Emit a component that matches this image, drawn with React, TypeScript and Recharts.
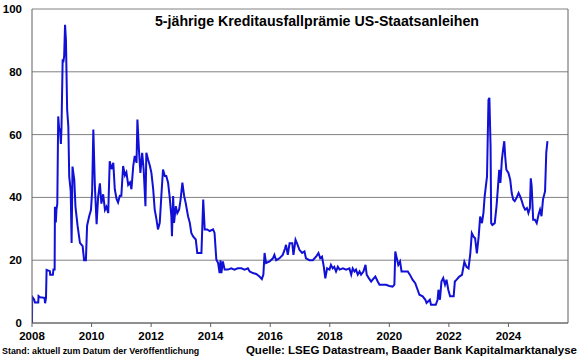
import React from "react";
import { LineChart, Line, XAxis, YAxis, CartesianGrid, ReferenceLine } from "recharts";

const title = "5-jährige Kreditausfallprämie US-Staatsanleihen";
const noteLeft = "Stand: aktuell zum Datum der Veröffentlichung";
const noteRight = "Quelle: LSEG Datastream, Baader Bank Kapitalmarktanalyse";

const xTicks = [2008, 2010, 2012, 2014, 2016, 2018, 2020, 2022, 2024];
const yTicks = [0, 20, 40, 60, 80, 100];

const dates2008 = [2008.0, 2008.005, 2008.07, 2008.1, 2008.21, 2008.22, 2008.27, 2008.42, 2008.44, 2008.47, 2008.49, 2008.6, 2008.61, 2008.7, 2008.72, 2008.76, 2008.77, 2008.8, 2008.82, 2008.85, 2008.88, 2008.91, 2008.94, 2008.97, 2008.99, 2009.03, 2009.05, 2009.08, 2009.11, 2009.14, 2009.18, 2009.22, 2009.25, 2009.3, 2009.33, 2009.36, 2009.42, 2009.46, 2009.53, 2009.61, 2009.7, 2009.75, 2009.81, 2009.85, 2009.92, 2009.98, 2010.02, 2010.06, 2010.11, 2010.17, 2010.22, 2010.28, 2010.33, 2010.39, 2010.45, 2010.5, 2010.56, 2010.61, 2010.67, 2010.73, 2010.78, 2010.84, 2010.89, 2010.95, 2011.0, 2011.06, 2011.12, 2011.17, 2011.23];
const values2008 = [0, 8.4, 7.5, 6.5, 6.5, 8.6, 8.2, 8.0, 6.3, 8, 16.9, 16.5, 15.4, 15.4, 17, 17, 37, 32, 36, 38, 65.8, 62, 61.6, 57, 62, 84, 83, 85, 95, 90, 68, 62.6, 46.7, 42, 25.5, 49.8, 45.6, 37, 31, 25.5, 24.5, 20, 20, 31, 34, 36, 42, 61.6, 44, 31.5, 40, 44.5, 38, 41, 36, 37, 35, 51.5, 49, 51, 42.6, 39.5, 38.4, 40.5, 40.5, 50, 47, 48, 44];

const dates2011 = [2011.29, 2011.34, 2011.4, 2011.45, 2011.51, 2011.54, 2011.59, 2011.64, 2011.7, 2011.75, 2011.81, 2011.84, 2011.9, 2011.96, 2012.01, 2012.07, 2012.12, 2012.18, 2012.23, 2012.29, 2012.35, 2012.4, 2012.46, 2012.51, 2012.57, 2012.62, 2012.68, 2012.7, 2012.74, 2012.77, 2012.83, 2012.88, 2012.94, 2012.99, 2013.05, 2013.11, 2013.16, 2013.24, 2013.3, 2013.35, 2013.41, 2013.5, 2013.55, 2013.69, 2013.72, 2013.75, 2013.8, 2013.88, 2013.97, 2014.08, 2014.13, 2014.19, 2014.25];
const values2011 = [44.8, 42.6, 50, 53.2, 51, 64.8, 55.3, 47.8, 54.2, 48.9, 37.2, 54.2, 52, 50, 47.8, 42.6, 36.2, 33, 29.8, 31.9, 41.5, 48.9, 46.8, 46.8, 44.7, 40.4, 34, 27.6, 40.4, 31.9, 37.2, 35, 36.1, 39.3, 44.7, 40.4, 38.3, 34, 31.9, 28.7, 27.6, 26.6, 22.3, 22.3, 30.9, 39.3, 29.8, 29.8, 29.3, 29.8, 28.7, 20.2, 19.1];

const dates2014 = [2014.3, 2014.33, 2014.36, 2014.41, 2014.47, 2014.58, 2014.69, 2014.8, 2014.91, 2015.03, 2015.14, 2015.25, 2015.31, 2015.42, 2015.53, 2015.64, 2015.72, 2015.77, 2015.81, 2015.86, 2015.98, 2016.09, 2016.14, 2016.2, 2016.31, 2016.42, 2016.5, 2016.53, 2016.59, 2016.65, 2016.74, 2016.78, 2016.85, 2016.9, 2016.98, 2017.07, 2017.15, 2017.2, 2017.32, 2017.43, 2017.54, 2017.62, 2017.68, 2017.74, 2017.8, 2017.85, 2017.91, 2017.99, 2018.04, 2018.1, 2018.15, 2018.21, 2018.27];
const values2014 = [15.9, 20, 15.9, 19.6, 17, 17, 17.4, 17, 17.4, 17.4, 17, 17.4, 16.4, 15.9, 15.6, 14.8, 14, 15.4, 22.3, 19.1, 19.6, 20.6, 21.7, 20, 20.6, 21.7, 23.8, 24.9, 21.7, 25.4, 25.4, 21.7, 26.5, 25.4, 23.3, 22.3, 22.8, 20.6, 20, 20, 21.1, 22.3, 20.6, 21.1, 17.9, 14.2, 17.4, 17, 18.5, 17.4, 17.9, 16.4, 17.9];

const dates2018 = [2018.33, 2018.44, 2018.55, 2018.66, 2018.72, 2018.77, 2018.83, 2018.88, 2018.94, 2019.0, 2019.05, 2019.13, 2019.2, 2019.24, 2019.31, 2019.39, 2019.44, 2019.53, 2019.61, 2019.67, 2019.78, 2019.89, 2020.0, 2020.11, 2020.17, 2020.2, 2020.25, 2020.3, 2020.36, 2020.41, 2020.5, 2020.62, 2020.69, 2020.78, 2020.87, 2020.95, 2021.01, 2021.12, 2021.21, 2021.25, 2021.36, 2021.4, 2021.45, 2021.56, 2021.62, 2021.65, 2021.7, 2021.75, 2021.81, 2021.87, 2021.92, 2021.98, 2022.04, 2022.16, 2022.2, 2022.26];
const values2018 = [17, 17.4, 17, 17.4, 15.4, 17.4, 16.4, 17, 15.4, 16.4, 15.4, 16.4, 18.5, 15.4, 14.3, 13.2, 13.8, 14.8, 13.2, 12.2, 12.2, 12.2, 11.8, 11.6, 12.2, 22.8, 20.6, 18.5, 19.6, 16.4, 16.4, 16.4, 15.4, 13.8, 12.7, 10.6, 9, 8.5, 7.4, 6.4, 7.4, 5.8, 5.8, 5.8, 7.4, 10.6, 7.4, 13.2, 14.3, 12.2, 13.8, 10.6, 8.5, 8.5, 13.2, 13.8];

const dates2022 = [2022.35, 2022.44, 2022.52, 2022.59, 2022.66, 2022.72, 2022.77, 2022.83, 2022.88, 2022.94, 2023.0, 2023.05, 2023.11, 2023.16, 2023.2, 2023.24, 2023.28, 2023.31, 2023.33, 2023.36, 2023.4, 2023.42, 2023.46, 2023.54, 2023.6, 2023.65, 2023.69, 2023.73, 2023.78, 2023.82, 2023.86, 2023.89, 2023.93, 2024.0, 2024.06, 2024.11, 2024.16, 2024.21, 2024.27, 2024.34, 2024.39, 2024.45, 2024.5, 2024.56, 2024.62, 2024.67, 2024.72, 2024.75, 2024.78, 2024.83, 2024.89, 2024.95, 2025.01, 2025.06, 2025.11, 2025.16, 2025.23, 2025.27, 2025.31];
const values2022 = [14.8, 15.3, 19.5, 17.9, 17.4, 22.2, 28.6, 27.5, 27, 22.2, 27.5, 33.9, 31.8, 35, 40.2, 43.4, 46.6, 61.5, 71.1, 71.7, 56.2, 31.8, 31.2, 31.8, 37.2, 43.5, 48.8, 44.6, 52, 55.2, 57.9, 53.1, 48.8, 47.8, 45.6, 41.4, 39.3, 38.8, 39.8, 41.4, 40.4, 38.8, 37.2, 36.1, 36.6, 35, 36.6, 46.1, 43.5, 32.9, 32.9, 31.8, 34.5, 36.1, 34, 39.3, 42, 54.2, 57.9];

const allDates = [...dates2008, ...dates2011, ...dates2014, ...dates2018, ...dates2022];
const allValues = [...values2008, ...values2011, ...values2014, ...values2018, ...values2022];
const data = allDates.map((t, i) => ({ t, v: allValues[i] }));

const FONT = "'Liberation Sans', Arial, sans-serif";

export default function App() {
  return (
    <div style={{ position: "absolute", left: 0, top: 0, width: 580, height: 358, background: "#fff" }}>
      <LineChart width={580} height={358} data={data} margin={{ top: 9, right: 12, left: 4, bottom: 0 }}>
        <CartesianGrid horizontal={true} vertical={false} stroke="#808080" />
        <XAxis
          dataKey="t"
          type="number"
          domain={[2008, 2026]}
          ticks={xTicks}
          allowDataOverflow
          height={35}
          tickSize={4}
          tickMargin={5}
          stroke="#606060"
          tick={{ fill: "#000", fontSize: 11.5, fontWeight: "bold", fontFamily: FONT }}
          interval={0}
        />
        <YAxis
          domain={[0, 100]}
          ticks={yTicks}
          width={28}
          tickLine={false}
          tickSize={0}
          tickMargin={10}
          stroke="#606060"
          tick={{ fill: "#000", fontSize: 11.5, fontWeight: "bold", fontFamily: FONT }}
          interval={0}
        />
        <ReferenceLine x={2026} stroke="#606060" />
        <Line type="linear" dataKey="v" stroke="#1010d6" strokeWidth={2} dot={false} isAnimationActive={false} />
      </LineChart>
      <svg width={580} height={358} style={{ position: "absolute", left: 0, top: 0, pointerEvents: "none" }}>
        <text x={317} y={25.5} textAnchor="middle" fontFamily={FONT} fontWeight="bold" fontSize={14.2} fill="#000">{title}</text>
        <text x={2} y={354} textAnchor="start" fontFamily={FONT} fontWeight="bold" fontSize={8.9} fill="#000">{noteLeft}</text>
        <text x={577} y={354} textAnchor="end" fontFamily={FONT} fontWeight="bold" fontSize={11.5} fill="#000">{noteRight}</text>
      </svg>
    </div>
  );
}
